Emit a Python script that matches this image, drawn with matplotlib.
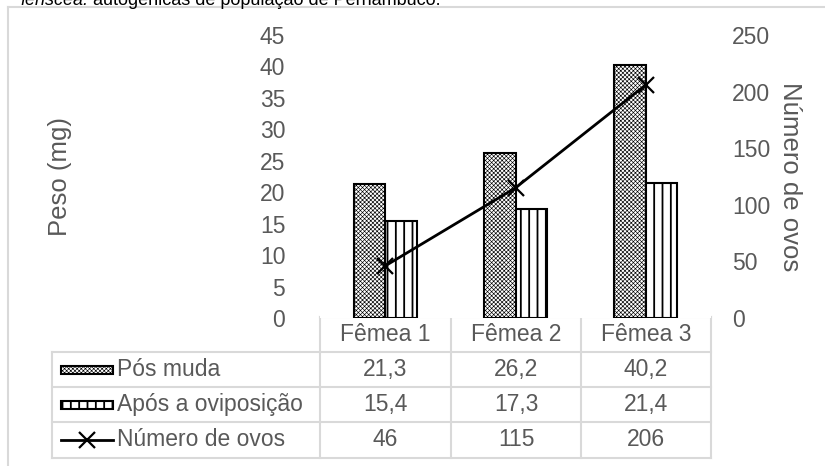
import matplotlib
matplotlib.use('Agg')
import matplotlib.pyplot as plt
from matplotlib.patches import Rectangle
from matplotlib.lines import Line2D

plt.rcParams['font.family'] = ['Liberation Sans', 'DejaVu Sans']

femeas = ['Fêmea 1', 'Fêmea 2', 'Fêmea 3']
pos_muda = [21.3, 26.2, 40.2]
apos_ovip = [15.4, 17.3, 21.4]
num_ovos = [46, 115, 206]
series_names = ['Pós muda', 'Após a oviposição', 'Número de ovos']

grey = '#595959'
grid_grey = '#d9d9d9'
W, H = 825, 466
check_hatch = 'xxxxxxxx'
line_hatch = '||'

fig = plt.figure(figsize=(W / 100, H / 100), dpi=100)

# plot area, placed in pixel units
px0, px1, py_top, py_bot = 320, 711, 35, 318
ax = fig.add_axes([px0 / W, 1 - py_bot / H, (px1 - px0) / W, (py_bot - py_top) / H])
ax2 = ax.twinx()

x = range(len(femeas))
bw = 0.241
plt.rcParams['hatch.linewidth'] = 0.45
ax.bar([i - bw / 2 for i in x], pos_muda, width=bw, facecolor='white',
       edgecolor='black', hatch=check_hatch, linewidth=1.5, zorder=2)
plt.rcParams['hatch.linewidth'] = 1.3
ax.bar([i + bw / 2 for i in x], apos_ovip, width=bw, facecolor='white',
       edgecolor='black', hatch=line_hatch, linewidth=1.5, zorder=2)
ax2.plot(list(x), num_ovos, color='black', lw=2, marker='x', ms=11, mew=1.6)

ax.set_xlim(-0.5, 2.5)
ax.set_ylim(0, 45)
ax.set_yticks(range(0, 46, 5))
ax2.set_ylim(0, 250)
ax2.set_yticks(range(0, 251, 50))
ax.set_xticks([])
for a in (ax, ax2):
    for s in a.spines.values():
        s.set_visible(False)
    a.tick_params(axis='y', length=0, labelsize=16.5, labelcolor=grey)
ax.tick_params(axis='y', pad=25)
ax2.tick_params(axis='y', pad=15)

ax.set_ylabel('Peso (mg)', fontsize=18.5, color=grey)
ax.yaxis.set_label_coords(-(px0 - 72) / (px1 - px0), 0.5)
ax2.set_ylabel('Número de ovos', fontsize=18.5, color=grey, rotation=-90)
ax2.yaxis.set_label_coords((802 - px0) / (px1 - px0), 0.5)

# overlay in pixel coordinates for frame, caption and data table
ov = fig.add_axes([0, 0, 1, 1], zorder=-1)
ov.set_xlim(0, W)
ov.set_ylim(H, 0)
ov.axis('off')
ov.patch.set_alpha(0)

ov.add_line(Line2D([8, 8], [7, H], color=grid_grey, lw=1.5))
ov.add_line(Line2D([8, W], [7, 7], color=grid_grey, lw=1.5))

t1 = ov.text(20, 5, 'fenscea:', fontsize=13, style='italic', color='black')
fig.canvas.draw()
bb = t1.get_window_extent()
ov.text(bb.x1 + 5, 5, 'autogênicas de população de Pernambuco.',
        fontsize=13, color='black')

col_edges = [52, 320, 451, 581, 711]
row_edges = [317, 352, 387, 422, 458]
tab = dict(color=grid_grey, lw=1.5)

# header row only spans the category columns
for xe in col_edges[1:]:
    ov.add_line(Line2D([xe, xe], [row_edges[0], row_edges[-1]], **tab))
ov.add_line(Line2D([col_edges[0], col_edges[0]], [row_edges[1], row_edges[-1]], **tab))
ov.add_line(Line2D([col_edges[1], col_edges[-1]], [row_edges[0], row_edges[0]], **tab))
for ye in row_edges[1:]:
    ov.add_line(Line2D([col_edges[0], col_edges[-1]], [ye, ye], **tab))

fs = 16.5
for j, name in enumerate(femeas):
    cx = (col_edges[j + 1] + col_edges[j + 2]) / 2
    ov.text(cx, (row_edges[0] + row_edges[1]) / 2, name, ha='center', va='center',
            fontsize=fs, color=grey)

rows = [
    [f'{v:.1f}'.replace('.', ',') for v in pos_muda],
    [f'{v:.1f}'.replace('.', ',') for v in apos_ovip],
    [str(v) for v in num_ovos],
]
for i, vals in enumerate(rows):
    cy = (row_edges[i + 1] + row_edges[i + 2]) / 2
    for j, v in enumerate(vals):
        cx = (col_edges[j + 1] + col_edges[j + 2]) / 2
        ov.text(cx, cy, v, ha='center', va='center', fontsize=fs, color=grey)
    ov.text(117, cy, series_names[i], ha='left', va='center', fontsize=fs, color=grey)

# legend keys inside the table
ky = [(row_edges[1] + row_edges[2]) / 2, (row_edges[2] + row_edges[3]) / 2,
      (row_edges[3] + row_edges[4]) / 2]
plt.rcParams['hatch.linewidth'] = 0.45
ov.add_patch(Rectangle((61, ky[0] - 4), 52, 8, facecolor='white', edgecolor='black',
                       hatch=check_hatch, lw=1.5))
plt.rcParams['hatch.linewidth'] = 1.3
ov.add_patch(Rectangle((61, ky[1] - 4), 52, 8, facecolor='white', edgecolor='black',
                       hatch=line_hatch, lw=1.5))
ov.add_line(Line2D([61, 113], [ky[2], ky[2]], color='black', lw=2))
ov.add_line(Line2D([87], [ky[2]], color='black', marker='x', ms=11, mew=1.6))

fig.savefig('out.png', dpi=100)
